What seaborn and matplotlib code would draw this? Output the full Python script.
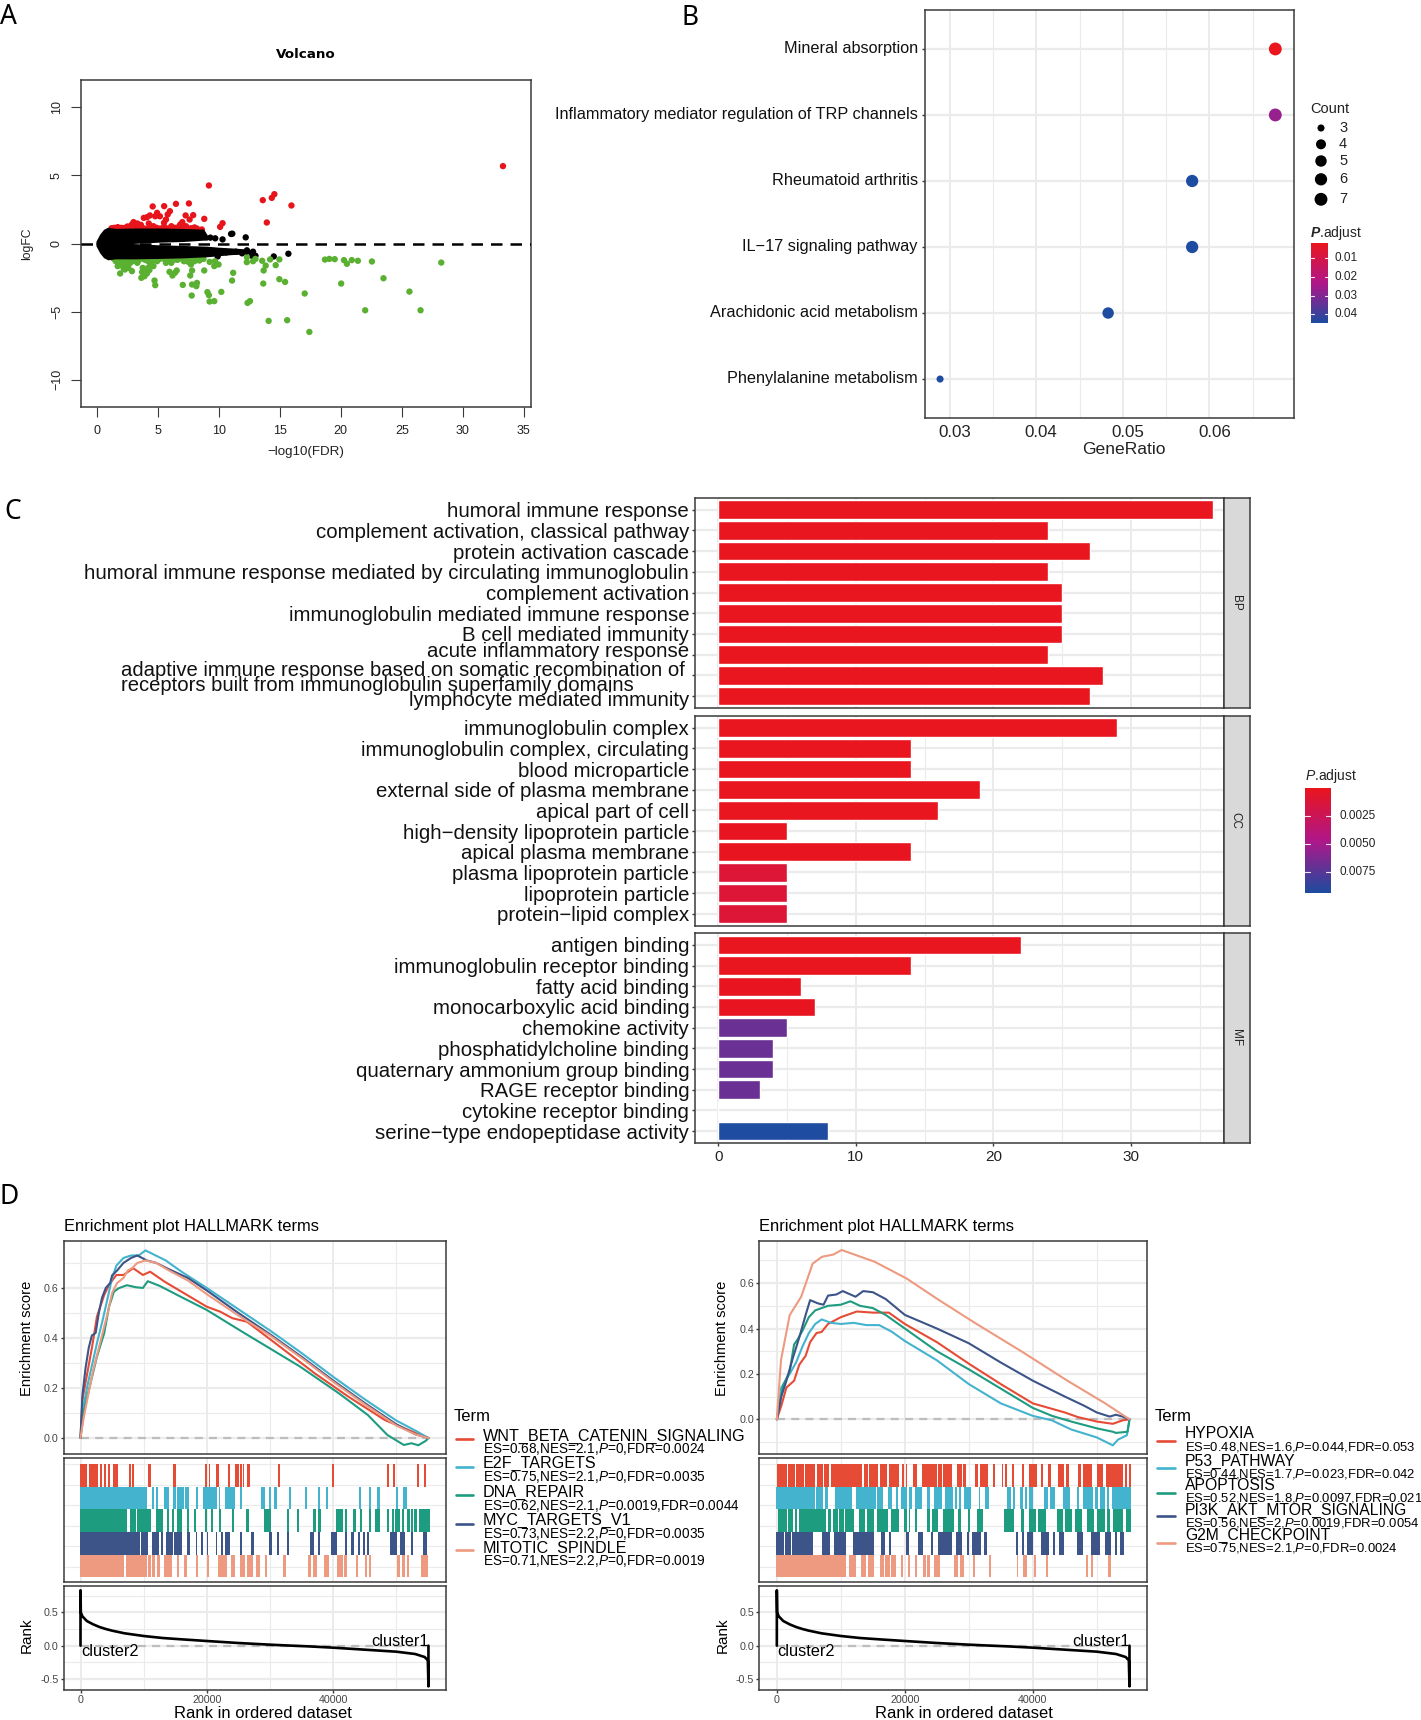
import numpy as np
import pandas as pd
import matplotlib
matplotlib.use("Agg")
import matplotlib.pyplot as plt
from matplotlib.colors import LinearSegmentedColormap
from matplotlib.lines import Line2D
from matplotlib.transforms import ScaledTranslation
import seaborn as sns

# ---------- Panel A data: logFC against -log10(FDR) ----------
up_x = [33.3,9.18,14.55,14.34,13.6,15.95,7.54,6.48,5.51,4.57,5.98,5.8,4.93,5.16,4.78,4.34,3.84,4.1,7.27,7.89,7.6,8.8,10.3,10.1,13.93,5.66,5.5,7,4.25,3.31,2.87,2.3,1.4,2,2.6,3.2,3.6,4.2,4.9,5.5,6.1,6.7,7.3,8,8.6,1.7,3,3.6,6.83,4.63]
up_y = [5.68,4.26,3.62,3.35,3.18,2.79,2.94,2.91,2.74,2.72,2.37,2.13,2.25,2,2,2.06,1.88,1.93,2.06,2.08,1.76,1.81,1.49,1.22,1.54,1.76,1.52,1.57,1.47,1.47,1.4,1.15,1.15,1.15,1.2,1.15,1.15,1.08,1.15,1.22,1.27,1.22,1.27,1.18,1.03,1.2,1.57,1.37,1.4,1.27]
up_band_x = [1.2,1.6,2.2,2.5,2.8,3.4,3.9,4.4,5.2,5.8,6.4,7,7.7,8.2]
up_band_y = [1.12,1.1,1.12,1.25,1.3,1.3,1.1,1.2,1.1,1.1,1.15,1.1,1.12,1.1]
down_x = [28.24,22.55,21.4,20.9,20.5,20.26,19.5,19.06,18.7,23.5,20.03,25.63,26.54,22,17.04,17.42,15.6,14.08,12.55,12.35,14.96,15.43,13.64,13.67,14.96,14.66,14.2,13.84,13.55,13,12.8,12.3,12.29,11.17,11.08,10.2,9.62,9.24,9.18,9.06,7.77,8.2,8.15,7.8,7.04,7.65,7.8,8.8,9.62,9.97,9.68,9.24,4.72,4.78,5.95,6.19,6.54,6.4,3.64,3.9,4.05,3.75,4.19,2.87,1.9,2.29,1.85,2.14,2.43,2.73,2.58,1.55,1.55,2.14,2.73,3.31,3.31,3.9,4.34,4.63,4.93,5.07,5.8,5.66,6.4,6.69,7.13,7.71,8,8.3,8.74,7.57,3,3.6,4.34,2,1.7,2.43,2.3,6.1]
down_y = [-1.4,-1.32,-1.27,-1.22,-1.49,-1.22,-1.15,-1.13,-1.18,-2.55,-2.94,-3.53,-4.9,-4.9,-3.67,-6.49,-5.63,-5.68,-4.23,-4.36,-2.62,-2.82,-2.94,-1.98,-1.17,-1.59,-1.17,-1.62,-1.27,-1.13,-1.3,-1,-1.37,-2.15,-2.72,-3.55,-4.23,-4.26,-3.79,-3.57,-3.82,-2.89,-3.13,-3.01,-3.04,-2.35,-1.98,-1.98,-1.66,-1.54,-1.3,-1.35,-2.72,-3.06,-2.08,-2.35,-1.98,-2.15,-2.52,-2.28,-2.03,-1.79,-1.79,-2.03,-2.2,-1.91,-1.42,-1.66,-1.54,-1.42,-1.79,-1.3,-1.05,-1.05,-1.05,-1.17,-1.42,-1.17,-1.42,-1.66,-1.3,-1.05,-1.05,-1.42,-1.17,-1.05,-1.3,-1.54,-1.3,-1.13,-1.13,-1.17,-1.17,-1.05,-1.13,-1.3,-1.66,-1.17,-1.42,-1.42]
down_band_x = [1.35,1.5,1.7,1.9,2.1,2.3,2.5,2.7,2.9,3.1,3.4,3.7,4,4.2,4.5,4.8,5.1,5.4,5.7,6,6.3,6.6,6.9,7.2,7.5,7.8,8.1,8.4,2,2.4,2.2,1.8,4.1,3.9,4.3,3.7]
down_band_y = [-1.1,-1.2,-1.15,-1.25,-1.3,-1.5,-1.25,-1.2,-1.3,-1.15,-1.25,-1.1,-1.2,-1.3,-1.25,-1.2,-1.15,-1.1,-1.25,-1.15,-1.1,-1.2,-1.1,-1.25,-1.35,-1.2,-1.15,-1.25,-1.6,-1.7,-1.85,-1.5,-2.2,-2.4,-1.95,-2.1]
ns_x = [9.3,9.7,10.3,11,11.1,12.2,12.3,12.8,12.7,13,14.5,15.7,9.9,10.6,11.4,11.9]
ns_y = [.43,.38,.3,.7,.72,.45,-.5,-.6,-.9,-.9,-.95,-.75,-.95,-.65,-.6,-.72]
# dense non-significant cloud, envelope
cloud_up_x = [0,.3,.6,.9,1.5,3,5,7,8.7,9.0]
cloud_up_hi = [.15,.65,.98,1.12,1.03,1.06,1.06,1.03,.98,.55]
cloud_up_lo = [0,0,0,0,0,.08,.17,.22,.32,.32]
cloud_dn_x = [0,.3,.6,.9,1.5,3,5,7,9,10,11,12,12.7]
cloud_dn_hi = [0,0,0,0,0,-.08,-.17,-.22,-.27,-.35,-.4,-.46,-.53]
cloud_dn_lo = [-.15,-.65,-.98,-1.12,-1.05,-1.05,-1.02,-.98,-.9,-.82,-.74,-.7,-.66]

# ---------- Panel B data ----------
kegg_terms = ["Mineral absorption","Inflammatory mediator regulation of TRP channels","Rheumatoid arthritis","IL\u221217 signaling pathway","Arachidonic acid metabolism","Phenylalanine metabolism"]
kegg_ratio = [.0676,.0676,.058,.058,.0483,.0289]
kegg_count = [7,7,6,6,5,3]
kegg_padj = [.002,.027,.0445,.0445,.0445,.0445]

# ---------- Panel C data ----------
bp_terms = ["humoral immune response","complement activation, classical pathway","protein activation cascade","humoral immune response mediated by circulating immunoglobulin","complement activation","immunoglobulin mediated immune response","B cell mediated immunity","acute inflammatory response","adaptive immune response based on somatic recombination of\nreceptors built from immunoglobulin superfamily domains","lymphocyte mediated immunity"]
bp_count = [36,24,27,24,25,25,25,24,28,27]
bp_padj = [.0001,.0001,.0001,.0001,.0001,.0001,.0001,.0001,.0001,.0001]
cc_terms = ["immunoglobulin complex","immunoglobulin complex, circulating","blood microparticle","external side of plasma membrane","apical part of cell","high\u2212density lipoprotein particle","apical plasma membrane","plasma lipoprotein particle","lipoprotein particle","protein\u2212lipid complex"]
cc_count = [29,14,14,19,16,5,14,5,5,5]
cc_padj = [.0001,.0001,.0001,.0001,.0001,.0002,.0002,.0011,.0011,.0011]
mf_terms = ["antigen binding","immunoglobulin receptor binding","fatty acid binding","monocarboxylic acid binding","chemokine activity","phosphatidylcholine binding","quaternary ammonium group binding","RAGE receptor binding","cytokine receptor binding","serine\u2212type endopeptidase activity"]
mf_count = [22,14,6,7,5,4,4,3,0,8]
mf_padj = [.0001,.0001,.0002,.0002,.0069,.0069,.0069,.0069,.0069,.0094]

# ---------- Panel D data: running enrichment scores ----------
wnt_rank = [0,300,1070,1840,2600,3750,4520,5670,6820,8350,9880,11030,13330,20000,22140,24050,26350,30180,37070,42440,48180,53160,55100]
wnt_es = [0,.152,.259,.365,.485,.572,.612,.652,.652,.679,.652,.665,.625,.525,.505,.479,.465,.392,.259,.165,.072,.019,0]
e2f_rank = [0,500,1100,1900,2700,3500,4300,5000,5700,6800,8000,9200,10300,11500,13500,16000,20000,25000,30000,35000,40000,45000,50000,53000,55100]
e2f_es = [0,.13,.21,.30,.39,.47,.56,.64,.69,.72,.73,.73,.75,.735,.71,.665,.60,.515,.43,.34,.245,.155,.07,.03,0]
dna_rank = [0,460,1070,1840,2600,3750,4520,5290,6050,7350,8730,9880,10650,12560,15630,20000,25600,30200,34800,40900,45500,48600,50100,51200,52400,53500,54700,55100]
dna_es = [0,.099,.165,.245,.325,.419,.525,.585,.599,.611,.603,.600,.627,.608,.568,.512,.425,.355,.285,.179,.092,.012,-.011,-.028,-.021,-.029,-.011,0]
myc_rank = [0,300,800,1300,1800,2400,2900,3400,4000,4700,5000,5800,6800,8000,9000,10500,12000,14000,17000,20000,25000,30000,35000,40000,45000,50000,53000,55100]
myc_es = [0,.17,.28,.36,.41,.42,.50,.56,.60,.62,.65,.67,.70,.72,.73,.71,.70,.675,.64,.59,.50,.415,.325,.23,.14,.055,.015,0]
mit_rank = [0,500,1200,2000,2800,3500,4300,5000,5800,6800,7500,8200,9000,10300,12000,14000,17000,20000,25000,30000,35000,40000,45000,50000,53000,55100]
mit_es = [0,.08,.17,.27,.35,.42,.50,.58,.62,.64,.67,.68,.70,.71,.70,.67,.63,.575,.49,.41,.32,.225,.135,.05,.015,0]

hyp_rank = [0,700,1500,2700,3500,4500,5200,6200,7000,8000,10000,12500,15000,17500,20000,25000,30000,35000,40000,45000,47000,50000,52500,54000,55100]
hyp_es = [0,.06,.14,.17,.24,.28,.34,.38,.385,.42,.45,.475,.47,.47,.42,.34,.245,.155,.07,.03,.01,-.01,-.02,-.005,0]
p53_rank = [0,700,2000,3000,4000,5000,6000,7000,8500,10000,12000,14000,16000,18000,20000,25000,30000,35000,40000,43000,46000,50000,52500,53300,54700,55100]
p53_es = [0,.14,.2,.25,.32,.38,.42,.44,.425,.42,.425,.415,.415,.385,.345,.26,.155,.07,.015,-.005,-.045,-.08,-.115,-.09,-.07,0]
apo_rank = [0,500,1000,2000,2700,3200,4000,5000,6000,7000,8000,10000,11500,13000,15000,17000,20000,25000,30000,35000,40000,43000,46000,50000,52500,53000,54800,55100]
apo_es = [0,.08,.15,.21,.33,.35,.39,.45,.48,.49,.50,.505,.52,.50,.49,.46,.40,.30,.22,.135,.05,.015,-.01,-.04,-.055,-.06,-.055,0]
pi3_rank = [0,700,1500,2500,3500,4500,5200,6500,7300,8000,9300,10300,11500,12300,13500,15000,17000,20000,25000,30000,35000,40000,45000,48000,50000,52000,53000,54000,55100]
pi3_es = [0,.10,.17,.27,.36,.46,.525,.51,.505,.545,.55,.565,.55,.54,.565,.56,.53,.46,.40,.335,.25,.17,.10,.06,.03,.012,.02,.012,0]
g2m_rank = [0,650,2010,3800,5600,7040,8830,10120,12420,15300,20300,25300,31100,38300,45400,51200,55100]
g2m_es = [0,.261,.459,.54,.686,.716,.726,.746,.723,.694,.62,.526,.422,.298,.17,.072,0]

rank_x = [0,0,50,300,1000,2000,3000,4000,5000,7000,10000,13000,16000,20000,25000,30000,33000,36000,40000,45000,50000,53000,54500,55000,55100,55100]
rank_y = [0,.83,.50,.44,.37,.32,.28,.25,.225,.185,.145,.115,.095,.07,.04,.015,.002,-.01,-.03,-.06,-.09,-.125,-.17,-.22,-.61,0]

# Gene-set hits, as inclusive (first bin, last bin) runs; one bin = 52.8 ranks (left) or 52.1 ranks (right)
BIN_LEFT, ORIGIN_LEFT = 52.8, 61.5
BIN_RIGHT, ORIGIN_RIGHT = 52.08, 50.4
wnt_hits = [(61,82),(88,114),(120,127),(132,139),(145,149),(158,175),(206,213),(217,223),(265,273),(340,347),(436,442),(446,451),(469,476),(505,510),(525,536),(539,546),(548,553),(561,570),(654,661),(816,822),(981,987),(1000,1006),(1071,1077),(1092,1099)]
e2f_hits = [(60,262),(276,282),(289,295),(312,327),(340,349),(352,372),(375,387),(408,413),(430,470),(476,481),(496,525),(541,546),(604,616),(628,634),(642,650),(686,692),(735,742),(773,779),(798,803),(898,904),(928,933),(952,960),(1009,1014),(1030,1040)]
dna_hits = [(61,200),(210,228),(232,274),(289,310),(320,326),(336,342),(352,365),(381,386),(402,408),(435,440),(452,458),(476,482),(516,522),(557,568),(612,634),(680,688),(710,716),(760,768),(774,782),(828,848),(854,862),(880,887),(900,906),(928,932),(945,960),(982,988),(995,1002),(1006,1020),(1027,1032),(1040,1050),(1053,1058),(1063,1072),(1078,1110)]
myc_hits = [(59,240),(243,264),(276,298),(304,308),(318,338),(342,365),(381,390),(407,412),(423,430),(440,445),(467,472),(484,490),(495,511),(541,546),(572,582),(628,636),(651,656),(681,688),(750,762),(773,780),(813,830),(854,860),(872,881),(895,900),(908,915),(920,928),(990,1012),(1020,1036),(1052,1058),(1088,1100)]
mit_hits = [(60,192),(197,262),(265,272),(277,285),(290,300),(312,336),(351,358),(372,381),(408,415),(442,448),(474,502),(512,526),(541,554),(560,580),(588,600),(615,620),(670,677),(745,752),(758,770),(792,806),(832,848),(853,860),(888,895),(916,922),(926,932),(1012,1020),(1026,1034),(1040,1047),(1082,1105)]
hyp_hits = [(50,80),(84,104),(108,132),(136,165),(172,188),(192,208),(214,305),(312,325),(328,354),(361,381),(388,417),(427,433),(437,441),(458,470),(486,530),(535,545),(550,575),(590,605),(610,618),(645,655),(660,684),(699,706),(725,730),(736,741),(757,763),(785,792),(808,830),(844,850),(864,872),(894,912),(918,928),(955,962),(968,997),(1010,1030),(1037,1090),(1096,1102),(1108,1114)]
p53_hits = [(48,165),(169,190),(195,203),(225,275),(287,347),(352,368),(384,396),(408,414),(424,440),(446,455),(464,485),(502,511),(523,547),(556,578),(585,590),(596,604),(612,632),(656,661),(675,688),(740,754),(758,765),(780,790),(795,802),(808,818),(852,865),(870,886),(908,930),(952,958),(970,1000),(1005,1015),(1020,1035),(1040,1047),(1055,1114)]
apo_hits = [(53,80),(85,100),(104,110),(116,198),(204,213),(218,233),(238,252),(256,282),(298,314),(320,342),(352,385),(392,417),(432,440),(446,451),(466,472),(502,510),(516,535),(548,582),(595,603),(625,630),(650,668),(733,763),(783,793),(808,828),(834,858),(890,908),(916,935),(946,965),(982,1003),(1010,1035),(1040,1050),(1060,1090),(1098,1114)]
pi3_hits = [(48,72),(76,92),(97,160),(186,210),(222,258),(280,343),(364,374),(388,394),(439,446),(475,490),(514,520),(533,575),(588,607),(622,628),(637,662),(673,680),(769,775),(785,792),(802,820),(842,868),(879,884),(898,912),(950,968),(992,1020),(1035,1053),(1066,1072),(1080,1092)]
g2m_hits = [(48,258),(266,287),(303,318),(324,342),(361,372),(375,390),(393,408),(422,428),(443,449),(465,470),(490,498),(502,510),(522,540),(583,593),(600,612),(640,645),(686,692),(770,775),(790,802),(822,828),(858,863),(978,985),(992,1000),(1045,1053)]

left_terms = ["WNT_BETA_CATENIN_SIGNALING","E2F_TARGETS","DNA_REPAIR","MYC_TARGETS_V1","MITOTIC_SPINDLE"]
left_stats = ["ES=0.68,NES=2.1,$\\mathit{P}$=0,FDR=0.0024","ES=0.75,NES=2.1,$\\mathit{P}$=0,FDR=0.0035","ES=0.62,NES=2.1,$\\mathit{P}$=0.0019,FDR=0.0044","ES=0.73,NES=2.2,$\\mathit{P}$=0,FDR=0.0035","ES=0.71,NES=2.2,$\\mathit{P}$=0,FDR=0.0019"]
right_terms = ["HYPOXIA","P53_PATHWAY","APOPTOSIS","PI3K_AKT_MTOR_SIGNALING","G2M_CHECKPOINT"]
right_stats = ["ES=0.48,NES=1.6,$\\mathit{P}$=0.044,FDR=0.053","ES=0.44,NES=1.7,$\\mathit{P}$=0.023,FDR=0.042","ES=0.52,NES=1.8,$\\mathit{P}$=0.0097,FDR=0.021","ES=0.56,NES=2,$\\mathit{P}$=0.0019,FDR=0.0054","ES=0.75,NES=2.1,$\\mathit{P}$=0,FDR=0.0024"]
npg = ["#E64B35","#43B3CE","#1E9C80","#3C5488","#EE9A80"]

# ---------- style ----------
W, H = 1421, 1720
sns.set_theme(style="white")
plt.rcParams.update({
    "font.family": ["Liberation Sans", "DejaVu Sans"],
    "mathtext.fontset": "custom", "mathtext.rm": "Liberation Sans",
    "mathtext.it": "Liberation Sans:italic", "mathtext.bf": "Liberation Sans:bold",
    "mathtext.bfit": "Liberation Sans:italic:bold",
    "axes.unicode_minus": True, "text.color": "black",
})
GRID, FRAME = "#EBEBEB", "#3A3A3A"
red_blue = LinearSegmentedColormap.from_list("padj", ["#EA151D", "#B0178A", "#1D4CA0"])

fig = plt.figure(figsize=(W/100, H/100), dpi=100, facecolor="white")

def make_ax(l, t, r, b):
    ax = fig.add_axes([l/W, 1-b/H, (r-l)/W, (b-t)/H])
    ax.set_axisbelow(True)
    for s in ax.spines.values():
        s.set_color(FRAME); s.set_linewidth(1.1)
    return ax

def label(x, y, s, **kw):
    kw.setdefault("va", "center")
    return fig.text(x/W, 1-y/H, s, **kw)

def nudge(lab, dx=0, dy=0):
    lab.set_transform(lab.get_transform() + ScaledTranslation(dx/100, dy/100, fig.dpi_scale_trans))

def grid(ax, xmaj=(), xmin=(), ymaj=(), ymin=()):
    for v in xmin: ax.axvline(v, color=GRID, lw=0.8, zorder=0.5)
    for v in ymin: ax.axhline(v, color=GRID, lw=0.8, zorder=0.5)
    for v in xmaj: ax.axvline(v, color=GRID, lw=1.4, zorder=0.6)
    for v in ymaj: ax.axhline(v, color=GRID, lw=1.6, zorder=0.6)

for s, x, y in [("A", 0, 17), ("B", 682, 18), ("C", 4, 512), ("D", 0, 1197)]:
    label(x, y, s, fontsize=19, family="Noto Sans")

# ---------- Panel A ----------
ax = make_ax(81, 80, 531, 407)
volc = pd.concat([
    pd.DataFrame({"fdr": ns_x, "fc": ns_y, "g": "ns"}),
    pd.DataFrame({"fdr": up_x + up_band_x, "fc": up_y + up_band_y, "g": "up"}),
    pd.DataFrame({"fdr": down_x + down_band_x, "fc": down_y + down_band_y, "g": "down"})])
sns.scatterplot(data=volc, x="fdr", y="fc", hue="g", palette={"ns": "black", "up": "#E8141C", "down": "#5AB031"},
                s=21, linewidth=0, legend=False, ax=ax, zorder=3)
ax.fill_between(cloud_up_x, cloud_up_lo, cloud_up_hi, color="black", lw=1.5, zorder=3.5)
ax.fill_between(cloud_dn_x, cloud_dn_lo, cloud_dn_hi, color="black", lw=1.5, zorder=3.5)
ax.axhline(0, color="black", lw=1.8, dashes=(4.6, 3.2), zorder=4)
ax.set_xlim(-1.31, 35.6); ax.set_ylim(-12, 12)
ax.set_xticks(range(0, 36, 5)); ax.set_yticks([-10, -5, 0, 5, 10])
ax.set_yticklabels(["\u221210", "\u22125", "0", "5", "10"], rotation=90, va="center")
ax.tick_params(length=7, width=0.8, color=FRAME, labelsize=9, pad=6, left=True, bottom=True, labelcolor="#222222")
ax.set_xlabel(""); ax.set_ylabel("")
label(306, 54, "Volcano", ha="center", fontsize=9.7, fontweight="bold", family="DejaVu Sans")
label(306, 452, "\u2212log10(FDR)", ha="center", fontsize=9.6, color="#222222")
label(27, 244, "logFC", ha="center", rotation=90, fontsize=8.7, color="#222222")

# ---------- Panel B ----------
ax = make_ax(925, 10, 1293.5, 418)
grid(ax, xmaj=[.03, .04, .05, .06], xmin=[.035, .045, .055, .065], ymaj=range(6))
kegg = pd.DataFrame({"term": kegg_terms, "ratio": kegg_ratio, "n": kegg_count, "p": kegg_padj})
size_of = {3: 26, 4: 52, 5: 68, 6: 78, 7: 86}
sns.scatterplot(data=kegg, x="ratio", y="term", hue="p", hue_norm=(.00197, .0445), palette=red_blue,
                size="n", sizes=size_of, linewidth=0, legend=False, ax=ax, zorder=3)
ax.set_xlim(.02716, .0697); ax.set_ylim(5.59, -.59)
ax.set_xticks([.03, .04, .05, .06]); ax.set_xticklabels(["0.03", "0.04", "0.05", "0.06"])
ax.tick_params(axis="x", length=0, labelsize=12.2, pad=5, labelcolor="#222222")
ax.tick_params(axis="y", length=2.2, width=1, color=FRAME, labelsize=11.7, pad=3, left=True, labelcolor="#111111")
ax.set_xlabel(""); ax.set_ylabel("")
for lab in ax.get_xticklabels():
    nudge(lab, dx=5)
for lab in ax.get_yticklabels():
    nudge(lab, dy=2)
label(1124, 450, "GeneRatio", ha="center", fontsize=12.6, color="#222222")

label(1310, 108.7, "Count", fontsize=10.5, color="#222222")
lg = fig.add_axes([1305/W, 1-210/H, 32/W, 90/H]); lg.axis("off")
leg_counts = [3, 4, 5, 6, 7]
leg_rows = [4.1, 3.285, 2.45, 1.535, 0.535]
lg.set_xlim(0, 1); lg.set_ylim(0, 4.5)
sns.scatterplot(x=[.5]*5, y=leg_rows, size=leg_counts, sizes=size_of, color="black", linewidth=0, legend=False, ax=lg, clip_on=False)
lg.set_xlim(0, 1); lg.set_ylim(0, 4.5)
for c, py in zip(leg_counts, [128, 144.3, 161, 179.3, 199.3]):
    label(1339, py, str(c), fontsize=10.5, color="#222222")
label(1310, 232.7, "$\\mathbfit{P}$.adjust", fontsize=10, color="#222222")

def colorbar(l, t, r, b, top, bottom, ticks, texts, tx, fs):
    cb = fig.add_axes([l/W, 1-b/H, (r-l)/W, (b-t)/H])
    grad = np.linspace(0, 1, 256).reshape(-1, 1)
    cb.imshow(grad, aspect="auto", cmap=red_blue, extent=[0, 1, bottom, top])
    cb.axis("off")
    for v, s in zip(ticks, texts):
        cb.plot([0, .2], [v, v], color="white", lw=0.8, alpha=.9)
        cb.plot([.8, 1], [v, v], color="white", lw=0.8, alpha=.9)
        py = t + (v-top)/(bottom-top)*(b-t)
        label(tx, py, s, fontsize=fs, color="#222222")
    cb.set_xlim(0, 1); cb.set_ylim(bottom, top)

colorbar(1311, 243.3, 1328, 322.7, .00197, .0445, [.01, .02, .03, .04], ["0.01", "0.02", "0.03", "0.04"], 1334.7, 8.5)

# ---------- Panel C ----------
def go_panel(terms, counts, padj, top, bottom, strip, last=False):
    ax = make_ax(695, top, 1223.5, bottom)
    grid(ax, xmaj=[0, 10, 20, 30], xmin=[5, 15, 25, 35], ymaj=range(10))
    d = pd.DataFrame({"term": terms, "count": counts, "c": [matplotlib.colors.to_hex(red_blue(v/.00942)) for v in padj]})
    sns.barplot(data=d, y="term", x="count", hue="term", palette=dict(zip(d.term, d.c)), width=.9,
                dodge=False, legend=False, saturation=1, ax=ax, orient="h", zorder=3)
    ax.set_xlim(-1.70, 36.74); ax.set_ylim(9.58, -.58)
    ax.set_xlabel(""); ax.set_ylabel("")
    ax.tick_params(axis="y", length=2.2, width=1, color=FRAME, labelsize=14.7, pad=2, left=True, labelcolor="#111111")
    for lab in ax.get_yticklabels():
        lab.set_multialignment("left")
        if "\n" in lab.get_text():
            lab.set_linespacing(0.71)
    ax.set_xticks([0, 10, 20, 30])
    if last:
        ax.tick_params(axis="x", length=2.2, width=1, color=FRAME, labelsize=11, pad=3, bottom=True, labelcolor="#222222")
    else:
        ax.tick_params(axis="x", length=0, labelbottom=False)
    st = make_ax(1223.5, top, 1249.5, bottom)
    st.set_facecolor("#D9D9D9"); st.set_xticks([]); st.set_yticks([])
    st.text(.47, .5, strip, rotation=-90, ha="center", va="center", fontsize=8.5, color="#222222", transform=st.transAxes)
    return ax

ax_bp = go_panel(bp_terms, bp_count, bp_padj, 497.7, 708, "BP")
go_panel(cc_terms, cc_count, cc_padj, 715.7, 925.7, "CC")
go_panel(mf_terms, mf_count, mf_padj, 933, 1143, "MF", last=True)
for lab in ax_bp.get_yticklabels():
    shift = {"acute": 5, "lymph": -3}.get(lab.get_text()[:5], 0)
    if shift:
        nudge(lab, dy=shift)
    if "\n" in lab.get_text():
        nudge(lab, dx=-4, dy=-3)
        lab.set_fontsize(14.6)

label(1305, 775.7, "$\\mathit{P}$.adjust", fontsize=10, color="#222222")
colorbar(1305, 788.3, 1330.7, 893, 0, .00942, [.0025, .005, .0075], ["0.0025", "0.0050", "0.0075"], 1339, 8.5)

# ---------- Panel D ----------
def hallmark(l, r, xlim, es_top, es_bottom, curves, hits, terms, stats, bin_w, origin, leg, xlab_x, term_fs, stat_fs):
    # running score
    ax = make_ax(l, 1240.7, r, 1454)
    grid(ax, xmaj=[0, 20000, 40000], xmin=[10000, 30000, 50000], ymaj=[0, .2, .4, .6], ymin=[.1, .3, .5, .7, -.1])
    ax.plot([0, 55200], [0, 0], color="#BDBDBD", lw=1.6, dashes=(3.6, 2.8), zorder=1)
    df = pd.concat([pd.DataFrame({"rank": x, "es": y, "term": t}) for (x, y), t in zip(curves, terms)])
    sns.lineplot(data=df, x="rank", y="es", hue="term", hue_order=terms, palette=npg, estimator=None, sort=False,
                 lw=1.5, legend=False, ax=ax, zorder=3)
    ax.set_xlim(*xlim); ax.set_ylim(es_bottom, es_top)
    ax.set_xticks([]); ax.set_yticks([0, .2, .4, .6]); ax.set_yticklabels(["0.0", "0.2", "0.4", "0.6"])
    ax.set_xlabel(""); ax.set_ylabel("")
    ax.tick_params(axis="y", length=2.2, width=1, color=FRAME, labelsize=7.7, pad=1.5, left=True, labelcolor="#444444")
    # hit rug
    mid = make_ax(l, 1458.3, r, 1582.3)
    grid(mid, xmaj=[0, 20000, 40000], xmin=[10000, 30000, 50000], ymin=[.45, 1.36, 2.27, 3.18, 4.09, 5])
    for i, (h, c) in enumerate(zip(hits, npg)):
        spans = [((a-origin)*bin_w, (b-a)*bin_w) for a, b in h]
        mid.broken_barh(spans, (4-i, 1), facecolors=c, edgecolor="none", zorder=3)
    mid.set_xlim(*xlim); mid.set_ylim(-.22, 5.25); mid.set_xticks([]); mid.set_yticks([])
    # ranked list
    bot = make_ax(l, 1586.3, r, 1689.7)
    grid(bot, xmaj=[0, 20000, 40000], xmin=[10000, 30000, 50000], ymaj=[-.5, 0, .5], ymin=[-.25, .25, .75])
    bot.plot([0, 55200], [0, 0], color="#BDBDBD", lw=1.6, dashes=(3.6, 2.8), zorder=1)
    sns.lineplot(x=rank_x, y=rank_y, color="black", lw=1.9, estimator=None, sort=False, ax=bot, zorder=3)
    bot.set_xlim(*xlim); bot.set_ylim(-.66, .89)
    bot.set_xticks([0, 20000, 40000]); bot.set_yticks([-.5, 0, .5]); bot.set_yticklabels(["-0.5", "0.0", "0.5"])
    bot.tick_params(length=2.2, width=1, color=FRAME, labelsize=7.7, pad=1.5, left=True, bottom=True, labelcolor="#444444")
    bot.set_xlabel(""); bot.set_ylabel("")
    bot.text(120, -.08, "cluster2", ha="left", va="center", fontsize=11.8)
    bot.text(55200, .07, "cluster1", ha="right", va="center", fontsize=11.8)
    # titles
    label(l, 1227, "Enrichment plot HALLMARK terms", fontsize=11.85)
    yx = l - 37
    label(yx, 1338, "Enrichment score", rotation=90, ha="center", fontsize=10.6)
    label(yx, 1635, "Rank", rotation=90, ha="center", fontsize=11)
    label(xlab_x, 1713, "Rank in ordered dataset", ha="center", fontsize=11.9)
    # legend
    x0, x1, xt, lines, ty, sy = leg
    label(x0 - 2, 1416.7, "Term", fontsize=12)
    for t, s, c, a, b, d in zip(terms, stats, npg, lines, ty, sy):
        fig.add_artist(Line2D([x0/W, x1/W], [1-a/H, 1-a/H], color=c, lw=1.9, transform=fig.transFigure))
        label(xt, b, t, fontsize=term_fs)
        label(xt, d, s, fontsize=stat_fs)

hallmark(64, 445.5, (-2613, 57800), .789, -.064,
         [(wnt_rank, wnt_es), (e2f_rank, e2f_es), (dna_rank, dna_es), (myc_rank, myc_es), (mit_rank, mit_es)],
         [wnt_hits, e2f_hits, dna_hits, myc_hits, mit_hits], left_terms, left_stats, BIN_LEFT, ORIGIN_LEFT,
         (455.6, 472.6, 483, [1439, 1467, 1494.7, 1524, 1550], [1436, 1463.7, 1492.3, 1520.3, 1548], [1449.3, 1477.3, 1505.7, 1533.7, 1561.3]),
         263, 11.65, 9.8)
hallmark(759.3, 1147.4, (-2740, 57900), .787, -.153,
         [(hyp_rank, hyp_es), (p53_rank, p53_es), (apo_rank, apo_es), (pi3_rank, pi3_es), (g2m_rank, g2m_es)],
         [hyp_hits, p53_hits, apo_hits, pi3_hits, g2m_hits], right_terms, right_stats, BIN_RIGHT, ORIGIN_RIGHT,
         (1156.6, 1174.5, 1185, [1440.7, 1468.3, 1493.3, 1515.7, 1543.3], [1434, 1461.7, 1486, 1510.7, 1535.7], [1446.7, 1473.7, 1498.3, 1523.3, 1548.3]),
         964, 11.3, 9.4)

fig.savefig("out.png", dpi=100, facecolor="white")
